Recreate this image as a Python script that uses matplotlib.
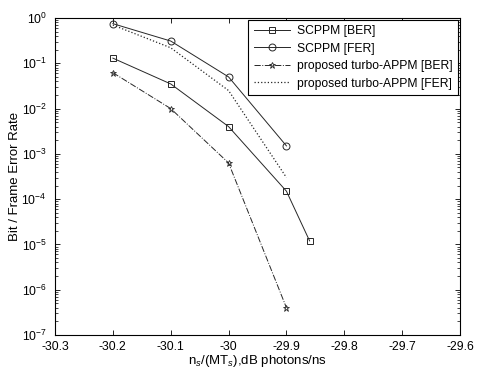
import matplotlib
matplotlib.use("Agg")
import matplotlib.pyplot as plt
from matplotlib.ticker import FixedLocator, FixedFormatter, LogLocator, NullFormatter

plt.rcParams['font.family'] = ['Liberation Sans', 'DejaVu Sans']
plt.rcParams['mathtext.fontset'] = 'custom'
plt.rcParams['mathtext.rm'] = 'Liberation Sans'
plt.rcParams['mathtext.it'] = 'Liberation Sans:italic'

# Data
scppm_ber_x = [-30.2, -30.1, -30.0, -29.9, -29.86]
scppm_ber_y = [0.13, 0.035, 4e-3, 1.5e-4, 1.2e-5]

scppm_fer_x = [-30.2, -30.1, -30.0, -29.9]
scppm_fer_y = [0.75, 0.31, 0.05, 1.5e-3]

prop_ber_x = [-30.2, -30.1, -30.0, -29.9]
prop_ber_y = [0.062, 0.01, 6.3e-4, 4e-7]

prop_fer_x = [-30.2, -30.1, -30.0, -29.9]
prop_fer_y = [0.7, 0.22, 0.025, 3e-4]

labels = ['SCPPM [BER]', 'SCPPM [FER]', 'proposed turbo-APPM [BER]', 'proposed turbo-APPM [FER]']
xticks = [-30.3, -30.2, -30.1, -30.0, -29.9, -29.8, -29.7, -29.6]
xticklabels = ['-30.3', '-30.2', '-30.1', '-30', '-29.9', '-29.8', '-29.7', '-29.6']
yticks = [1e-7, 1e-6, 1e-5, 1e-4, 1e-3, 1e-2, 1e-1, 1e0]

fig = plt.figure(figsize=(4.83, 3.70), dpi=100)
ax = fig.add_axes([55 / 483, 1 - 335 / 370, 405 / 483, 317 / 370])

lc = '0.15'
ax.semilogy(scppm_ber_x, scppm_ber_y, '-', marker='s', color=lc, lw=0.7, ms=5, mfc='none', mew=0.7, label=labels[0])
ax.semilogy(scppm_fer_x, scppm_fer_y, '-', marker='o', color=lc, lw=0.7, ms=5, mfc='none', mew=0.7, label=labels[1])
ax.semilogy(prop_ber_x, prop_ber_y, '-.', marker='*', color=lc, lw=0.7, ms=5, mfc='none', mew=0.6, label=labels[2])
ax.semilogy(prop_fer_x, prop_fer_y, ':', color=lc, lw=0.9, label=labels[3])

ax.set_xlim(-30.3, -29.6)
ax.set_ylim(1e-7, 1e0)
ax.xaxis.set_major_locator(FixedLocator(xticks))
ax.xaxis.set_major_formatter(FixedFormatter(xticklabels))
ax.yaxis.set_major_locator(FixedLocator(yticks))
ax.yaxis.set_minor_locator(LogLocator(base=10, subs=range(2, 10), numticks=20))
ax.yaxis.set_minor_formatter(NullFormatter())

ax.tick_params(which='both', direction='in', top=True, right=True, labelsize=8.8)
ax.tick_params(which='major', length=3.5, width=0.6)
ax.tick_params(axis='x', which='major', pad=4.5)
ax.tick_params(axis='y', which='major', pad=6)
ax.tick_params(which='minor', length=2, width=0.5)
for s in ax.spines.values():
    s.set_linewidth(0.8)

ax.set_xlabel(r'n$_s$/(MT$_s$),dB photons/ns', fontsize=9.5, labelpad=0)
ax.set_ylabel('Bit / Frame Error Rate', fontsize=9.5, labelpad=0)

leg = ax.legend(loc='upper right', fontsize=8.7, frameon=True, fancybox=False,
                edgecolor='black', framealpha=1, borderaxespad=0.15,
                handlelength=3.0, labelspacing=0.45, borderpad=0.45, handletextpad=0.6)
leg.get_frame().set_linewidth(0.8)

fig.savefig('out.png', dpi=100)
